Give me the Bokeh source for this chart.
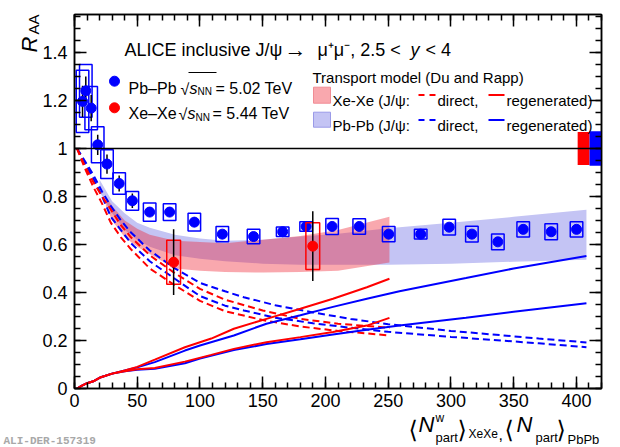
from bokeh.embed import file_html
from bokeh.models import (CustomJSTickFormatter, GridBox, Label, LinearAxis, Range1d,
                          SingleIntervalTicker, Span)
from bokeh.plotting import figure
from bokeh.resources import INLINE

# ALICE J/psi R_AA vs <Npart>, Pb-Pb 5.02 TeV and Xe-Xe 5.44 TeV

# Pb-Pb data
npart_pbpb = [6.4, 9.0, 13.3, 18.5, 25.9, 35.6, 46.1, 59.9, 75.8, 95.5, 117.8, 142.7,
              165.9, 184.6, 205.3, 226.9, 250.4, 275.9, 298.6, 316.7, 337.4, 357.6, 379.9, 400.1]
raa_pbpb = [1.196, 1.240, 1.168, 1.015, 0.935, 0.854, 0.782, 0.735, 0.735, 0.693, 0.643, 0.633,
            0.653, 0.675, 0.675, 0.675, 0.643, 0.643, 0.672, 0.643, 0.611, 0.663, 0.653, 0.663]
stat_pbpb = [0.065, 0.06, 0.055, 0.042, 0.04, 0.033, 0.03, 0.02, 0.02, 0.02, 0.015, 0.015,
             0.012, 0.012, 0.015, 0.015, 0.015, 0.012, 0.015, 0.015, 0.015, 0.015, 0.015, 0.015]
syst_pbpb = [0.13, 0.11, 0.09, 0.075, 0.06, 0.045, 0.039, 0.038, 0.035, 0.037, 0.032, 0.03,
             0.02, 0.02, 0.033, 0.032, 0.032, 0.02, 0.033, 0.033, 0.033, 0.032, 0.033, 0.032]

# Xe-Xe data
npart_xexe = [79.0, 189.9]
raa_xexe = [0.526, 0.593]
stat_xexe = [0.137, 0.145]
syst_xexe = [0.092, 0.097]

# global (correlated) uncertainties, drawn at R_AA = 1
glob_xexe = 0.069
glob_pbpb = 0.072

# transport model (Du and Rapp), Pb-Pb
band_pbpb_x = [20, 30, 40, 50, 60, 80, 100, 120, 150, 180, 210, 250, 300, 350, 408]
band_pbpb_hi = [0.87, 0.78, 0.73, 0.69, 0.67, 0.64, 0.625, 0.615, 0.62, 0.633, 0.645, 0.668, 0.69, 0.715, 0.745]
band_pbpb_lo = [0.82, 0.73, 0.66, 0.62, 0.59, 0.555, 0.54, 0.53, 0.52, 0.515, 0.515, 0.515, 0.52, 0.528, 0.536]

dir_pbpb_x = [2, 8, 15, 22, 29, 37, 45, 60, 80, 100, 120, 135, 160, 190, 220, 250, 300, 340, 370, 408]
dir_pbpb_hi = [1.0, 0.95, 0.89, 0.82, 0.76, 0.70, 0.65, 0.575, 0.50, 0.44, 0.405, 0.38, 0.347, 0.317,
               0.29, 0.268, 0.24, 0.222, 0.208, 0.192]
dir_pbpb_lo = [1.0, 0.94, 0.875, 0.80, 0.715, 0.66, 0.605, 0.53, 0.457, 0.385, 0.345, 0.325, 0.295,
               0.272, 0.253, 0.236, 0.215, 0.20, 0.188, 0.172]

reg_pbpb_x = [2, 6, 10, 15, 21, 30, 40, 50, 64, 88, 100, 127, 153, 180, 206, 233, 259, 312, 350, 408]
reg_pbpb_hi = [0.0, 0.012, 0.022, 0.03, 0.047, 0.062, 0.075, 0.088, 0.11, 0.158, 0.179, 0.221, 0.27,
               0.305, 0.34, 0.374, 0.405, 0.46, 0.50, 0.552]
reg_pbpb_lo = [0.0, 0.012, 0.022, 0.03, 0.047, 0.062, 0.072, 0.078, 0.082, 0.105, 0.125, 0.16, 0.185,
               0.205, 0.225, 0.245, 0.262, 0.295, 0.32, 0.355]

# transport model (Du and Rapp), Xe-Xe
band_xexe_x = [25, 30, 40, 50, 60, 80, 100, 120, 150, 180, 210, 251]
band_xexe_hi = [0.80, 0.76, 0.70, 0.665, 0.64, 0.615, 0.61, 0.605, 0.62, 0.635, 0.66, 0.715]
band_xexe_lo = [0.76, 0.70, 0.63, 0.59, 0.56, 0.50, 0.49, 0.485, 0.483, 0.485, 0.49, 0.525]

dir_xexe_x = [2, 8, 15, 22, 29, 37, 45, 60, 80, 100, 120, 150, 180, 210, 251]
dir_xexe_hi = [1.0, 0.93, 0.86, 0.80, 0.745, 0.68, 0.63, 0.555, 0.48, 0.415, 0.37, 0.325, 0.29, 0.27, 0.253]
dir_xexe_lo = [1.0, 0.92, 0.84, 0.77, 0.69, 0.63, 0.58, 0.50, 0.43, 0.365, 0.322, 0.285, 0.258, 0.24, 0.221]

reg_xexe_x = [2, 6, 10, 15, 21, 30, 40, 50, 64, 88, 109, 127, 153, 180, 206, 233, 251]
reg_xexe_hi = [0.0, 0.012, 0.022, 0.03, 0.047, 0.062, 0.075, 0.09, 0.12, 0.172, 0.208, 0.249, 0.29,
               0.332, 0.374, 0.422, 0.457]
reg_xexe_lo = [0.0, 0.012, 0.022, 0.03, 0.047, 0.062, 0.072, 0.08, 0.085, 0.112, 0.14, 0.165, 0.193,
               0.214, 0.235, 0.262, 0.294]

X_END = 420
Y_END = 1.558

BLUE = "#0000ff"
RED = "#ff0000"
LAVENDER = "#c4c4f4"
PINK = "#f01a29"
PINK_ALPHA = 0.38
FONT = "Liberation Sans"

# canvas position of the frame (used to place the hand-made legend)
FRAME_L, FRAME_R, FRAME_T, FRAME_B = 74, 601, 14, 388
W, H = 620, 447


def dx(px):
    return (px - FRAME_L) / (FRAME_R - FRAME_L) * X_END


def dy(py):
    return (FRAME_B - py) / (FRAME_B - FRAME_T) * Y_END


p = figure(width=W, height=H, x_range=Range1d(0, X_END), y_range=Range1d(0, Y_END),
           output_backend="svg", toolbar_location=None, tools="",
           min_border_left=FRAME_L, min_border_right=W - FRAME_R,
           min_border_top=FRAME_T, min_border_bottom=H - FRAME_B)
p.frame_align = False
p.grid.visible = False
p.outline_line_color = "black"
p.outline_line_width = 1.5
p.background_fill_color = "white"
p.border_fill_color = "white"

xticker = SingleIntervalTicker(interval=50, num_minor_ticks=5)
yticker = SingleIntervalTicker(interval=0.2, num_minor_ticks=4)
fmt = CustomJSTickFormatter(code="return String(Math.round(tick * 100) / 100);")

p.xaxis.ticker = xticker
p.yaxis.ticker = yticker
p.xaxis.formatter = fmt
p.yaxis.formatter = fmt
p.add_layout(LinearAxis(ticker=xticker), "above")
p.add_layout(LinearAxis(ticker=yticker), "right")

for ax in p.axis:
    ax.axis_line_width = 1.5
    ax.major_tick_line_width = 1.5
    ax.minor_tick_line_width = 1.5
    ax.major_tick_in = 12
    ax.major_tick_out = 0
    ax.minor_tick_in = 6
    ax.minor_tick_out = 0
    ax.major_label_text_font = FONT
    ax.major_label_text_font_size = "18px"
    ax.major_label_text_color = "black"

for ax in p.above + p.right:
    ax.major_label_text_color = None
    ax.major_label_standoff = 0

p.xaxis[0].major_label_standoff = 9
p.yaxis[0].major_label_standoff = 7

# model bands
p.varea(x=band_pbpb_x, y1=band_pbpb_lo, y2=band_pbpb_hi, fill_color=LAVENDER)
p.varea(x=band_xexe_x, y1=band_xexe_lo, y2=band_xexe_hi, fill_color=PINK, fill_alpha=PINK_ALPHA)

# model curves
for xs, ys, col in [(dir_pbpb_x, dir_pbpb_hi, BLUE), (dir_pbpb_x, dir_pbpb_lo, BLUE),
                    (dir_xexe_x, dir_xexe_hi, RED), (dir_xexe_x, dir_xexe_lo, RED)]:
    p.line(xs, ys, line_color=col, line_width=2, line_dash="7 4")
for xs, ys, col in [(reg_pbpb_x, reg_pbpb_hi, BLUE), (reg_pbpb_x, reg_pbpb_lo, BLUE),
                    (reg_xexe_x, reg_xexe_hi, RED), (reg_xexe_x, reg_xexe_lo, RED)]:
    p.line(xs, ys, line_color=col, line_width=2)

p.add_layout(Span(location=1, dimension="width", line_color="black", line_width=1.5))

# data
p.rect(x=npart_pbpb, y=raa_pbpb, width=10, height=[2 * s for s in syst_pbpb],
       fill_color=None, line_color=BLUE, line_width=1.5)
p.segment(x0=npart_pbpb, y0=[r - s for r, s in zip(raa_pbpb, stat_pbpb)],
          x1=npart_pbpb, y1=[r + s for r, s in zip(raa_pbpb, stat_pbpb)],
          line_color="black", line_width=1.5)
p.scatter(npart_pbpb, raa_pbpb, size=10, color=BLUE)

p.rect(x=npart_xexe, y=raa_xexe, width=11, height=[2 * s for s in syst_xexe],
       fill_color=None, line_color=RED, line_width=1.5)
p.segment(x0=npart_xexe, y0=[r - s for r, s in zip(raa_xexe, stat_xexe)],
          x1=npart_xexe, y1=[r + s for r, s in zip(raa_xexe, stat_xexe)],
          line_color="black", line_width=1.5)
p.scatter(npart_xexe, raa_xexe, size=10, color=RED)

# global uncertainty boxes
p.quad(left=[X_END - 19], right=[X_END - 9.5], bottom=[1 - glob_xexe], top=[1 + glob_xexe],
       fill_color=RED, line_color=None)
p.quad(left=[X_END - 9.5], right=[X_END], bottom=[1 - glob_pbpb], top=[1 + glob_pbpb],
       fill_color=BLUE, line_color=None)

# transparent overlay covering the whole canvas, for the texts outside the frame
ov = figure(width=W, height=H, x_range=Range1d(0, W), y_range=Range1d(H, 0),
            output_backend="svg", toolbar_location=None, tools="",
            x_axis_type=None, y_axis_type=None, min_border=0)
ov.frame_align = False
ov.grid.visible = False
ov.outline_line_color = None
ov.background_fill_color = None
ov.border_fill_color = None


def text(px, py, s, size, color="black", style="normal", font=FONT, angle=0, fig=p):
    # px, py: canvas pixels from the top-left corner, py is the text baseline
    if fig is p:
        lab = Label(x=px, y=py, x_units="canvas", y_units="canvas")
    else:
        lab = Label(x=px, y=py)
    lab.update(text=s, text_font=font, text_font_size=f"{size}px", text_color=color,
               text_font_style=style, angle=angle, text_align="left", text_baseline="alphabetic")
    fig.add_layout(lab)


# title
text(124, 49, "ALICE inclusive J/\u03c8", 18)
text(284, 49, "\u2192", 22)
text(317, 49, "\u03bc\u207a\u03bc\u207b, 2.5 <", 18)
text(410, 49, "y", 18, style="italic")
text(425, 49, "< 4", 18)

# data legend
p.scatter([dx(114)], [dy(80.7)], size=10, color=BLUE)
p.scatter([dx(114)], [dy(107.3)], size=10, color=RED)
text(128, 87.5, "Pb\u2013Pb", 16)
text(180, 88.5, "\u221a", 16)
text(189, 87.5, "s", 16, style="italic")
text(197, 91, "NN", 10)
text(215, 87.5, "= 5.02 TeV", 16)
p.segment(x0=[dx(188)], y0=[dy(72)], x1=[dx(216)], y1=[dy(72)], line_color="black", line_width=1)
text(128, 113.3, "Xe\u2013Xe", 16)
text(178, 114.3, "\u221a", 16)
text(187, 113.3, "s", 16, style="italic")
text(195, 117, "NN", 10)
text(212, 113.3, "= 5.44 TeV", 16)

# model legend
text(312, 76.7, "Transport model (Du and Rapp)", 15)
p.quad(left=[dx(313)], right=[dx(330)], top=[dy(86.7)], bottom=[dy(102.7)],
       fill_color=PINK, fill_alpha=PINK_ALPHA, line_color="#f08c94", line_width=1)
p.quad(left=[dx(313)], right=[dx(330)], top=[dy(111.7)], bottom=[dy(126.7)],
       fill_color=LAVENDER, line_color="#9a9ae8", line_width=1)
for py, col, lab in [(94.5, RED, "Xe-Xe (J/\u03c8:"), (119.5, BLUE, "Pb-Pb (J/\u03c8:")]:
    text(332, py + 5.5, lab, 15)
    p.line([dx(418), dx(435)], [dy(py), dy(py)], line_color=col, line_width=2, line_dash="6 5")
    text(437, py + 5.5, "direct,", 15)
    p.line([dx(488), dx(504)], [dy(py), dy(py)], line_color=col, line_width=2)
    text(506, py + 5.5, "regenerated)", 15)

# y axis title
text(29, 52, "R", 22, style="italic", angle=1.5708, fig=ov)
text(33, 34, "AA", 15, angle=1.5708, fig=ov)

# x axis title
text(408, 429, "\u27e8", 24, font="DejaVu Sans", fig=ov)
text(418, 424, "N", 22, style="italic", fig=ov)
text(435, 417, "w", 12, fig=ov)
text(435, 437, "part", 13, fig=ov)
text(457, 429, "\u27e9", 24, font="DejaVu Sans", fig=ov)
text(468, 433, "XeXe", 12, fig=ov)
text(498, 433, ",", 16, fig=ov)
text(504, 429, "\u27e8", 24, font="DejaVu Sans", fig=ov)
text(516, 424, "N", 22, style="italic", fig=ov)
text(535, 437, "part", 13, fig=ov)
text(556, 429, "\u27e9", 24, font="DejaVu Sans", fig=ov)
text(567, 439, "PbPb", 13, fig=ov)

# figure id
text(3, 440, "ALI-DER-157319", 11, color="#a8a8a8", style="bold", font="Liberation Mono", fig=ov)

page = GridBox(children=[(p, 0, 0), (ov, 0, 0)])

open("out.html", "w").write(file_html(page, INLINE))
